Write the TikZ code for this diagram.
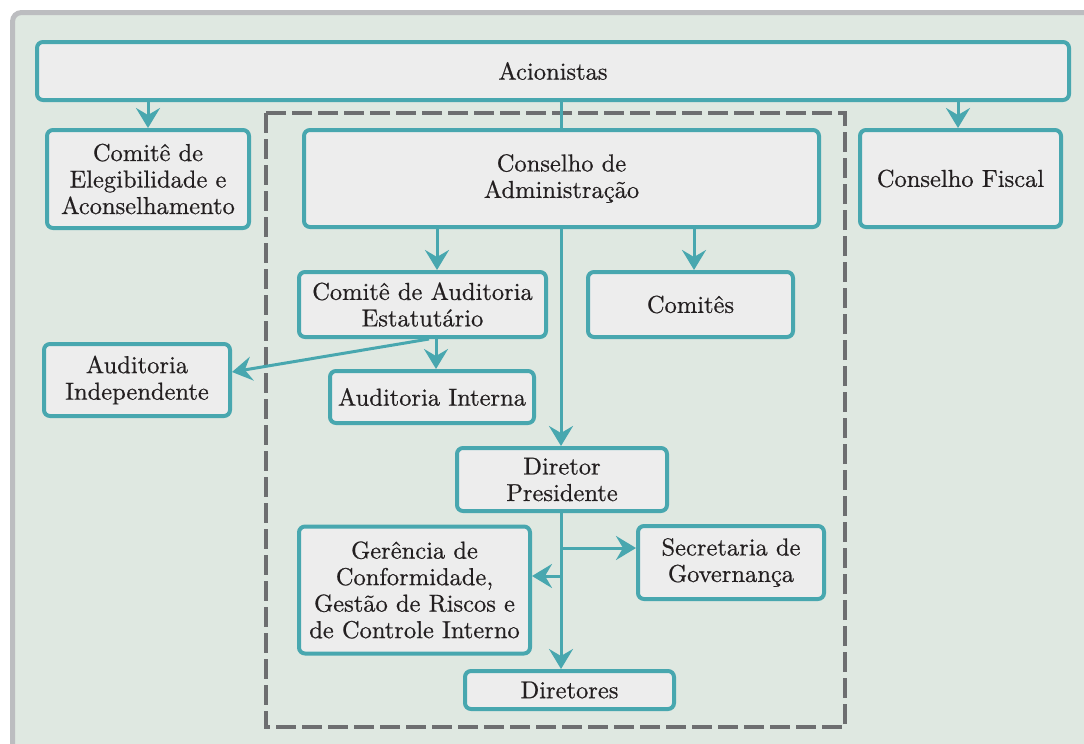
\documentclass[tikz,border=0pt]{standalone}
\usepackage{fontspec}
\newfontfamily\lmten{lmroman10-regular}[Extension=.otf, FakeBold=0.6]
\usetikzlibrary{arrows.meta}
\definecolor{tealc}{HTML}{48A7AF}
\definecolor{boxfill}{HTML}{EDEDED}
\definecolor{panelfill}{HTML}{DFE8E1}
\definecolor{panelborder}{HTML}{BCBDC0}
\definecolor{dashgray}{HTML}{6D6E70}
\definecolor{txt}{HTML}{231F20}
\begin{document}
\begin{tikzpicture}[x=1pt,y=-1pt,
  box/.style={draw=tealc, fill=boxfill, line width=4pt, rounded corners=6pt,
    align=center, inner sep=0pt, text=txt, font=\lmten\fontsize{24.5}{26.5}\selectfont},
  conn/.style={draw=tealc, line width=3pt},
  arr/.style={conn, -{Stealth[length=20pt,width=24pt,inset=7pt]}},
  dashbox/.style={draw=dashgray, line width=4pt, dash pattern=on 20pt off 6pt}]
\useasboundingbox (0,0) rectangle (1084,744);
\fill[white] (0,0) rectangle (1084,744);
\draw[draw=panelborder, fill=panelfill, line width=5pt, rounded corners=9pt] (12.5,12.5) rectangle (1110,770);
\draw[dashbox] (266,113) rectangle (845,727);

% nodes
\node[box, minimum width=1032pt, minimum height=58pt] (acion) at (553,71) {Acionistas};
\node[box, minimum width=202pt, minimum height=98pt] (eleg) at (148,179) {Comitê de\\Elegibilidade e\\Aconselhamento};
\node[box, minimum width=515pt, minimum height=97pt] (cadm) at (561.5,178.5) {Conselho de\\Administração};
\node[box, minimum width=201pt, minimum height=97pt] (cfis) at (960.5,178.5) {Conselho Fiscal};
\node[box, minimum width=247pt, minimum height=65pt] (caud) at (422.5,304.5) {Comitê de Auditoria\\Estatutário};
\node[box, minimum width=205pt, minimum height=65pt] (comites) at (690.5,304.5) {Comitês};
\node[box, minimum width=186pt, minimum height=72pt] (audind) at (137,380) {Auditoria\\Independente};
\node[box, minimum width=204pt, minimum height=52pt] (audint) at (432,397) {Auditoria Interna};
\node[box, minimum width=210pt, minimum height=63pt] (dp) at (562,479.5) {Diretor\\Presidente};
\node[box, minimum width=186pt, minimum height=73pt] (sec) at (731,562.5) {Secretaria de\\Governança};
\node[box, minimum width=231pt, minimum height=127pt] (ger) at (414.5,590) {Gerência de\\Conformidade,\\Gestão de Riscos e\\de Controle Interno};
\node[box, minimum width=209pt, minimum height=38pt] (dirs) at (569.5,690) {Diretores};

% helper coordinates
\coordinate (x148) at (148,0);
\coordinate (x958) at (958,0);
\coordinate (x561) at (561,0);
\coordinate (x437) at (437,0);
\coordinate (x694) at (694,0);
\coordinate (x436) at (436,0);
\coordinate (x429) at (429,0);
\coordinate (y372) at (0,372);
\coordinate (bsec) at (561,548);
\coordinate (bger) at (561,576);

% connectors
\draw[arr] (acion.south -| x148) -- (eleg.north -| x148);
\draw[arr] (acion.south -| x958) -- (cfis.north -| x958);
\draw[conn] (acion.south -| x561) -- (cadm.north -| x561);
\draw[arr] (cadm.south -| x437) -- (caud.north -| x437);
\draw[arr] (cadm.south -| x694) -- (comites.north -| x694);
\draw[arr] (cadm.south -| x561) -- (dp.north -| x561);
\draw[arr] (caud.south -| x436) -- (audint.north -| x436);
\draw[arr] (caud.south -| x429) -- (audind.east |- y372);
\draw[arr] (dp.south -| x561) -- (dirs.north -| x561);
\draw[arr] (bsec) -- (sec.west |- bsec);
\draw[arr] (bger) -- (ger.east |- bger);
\end{tikzpicture}
\end{document}
